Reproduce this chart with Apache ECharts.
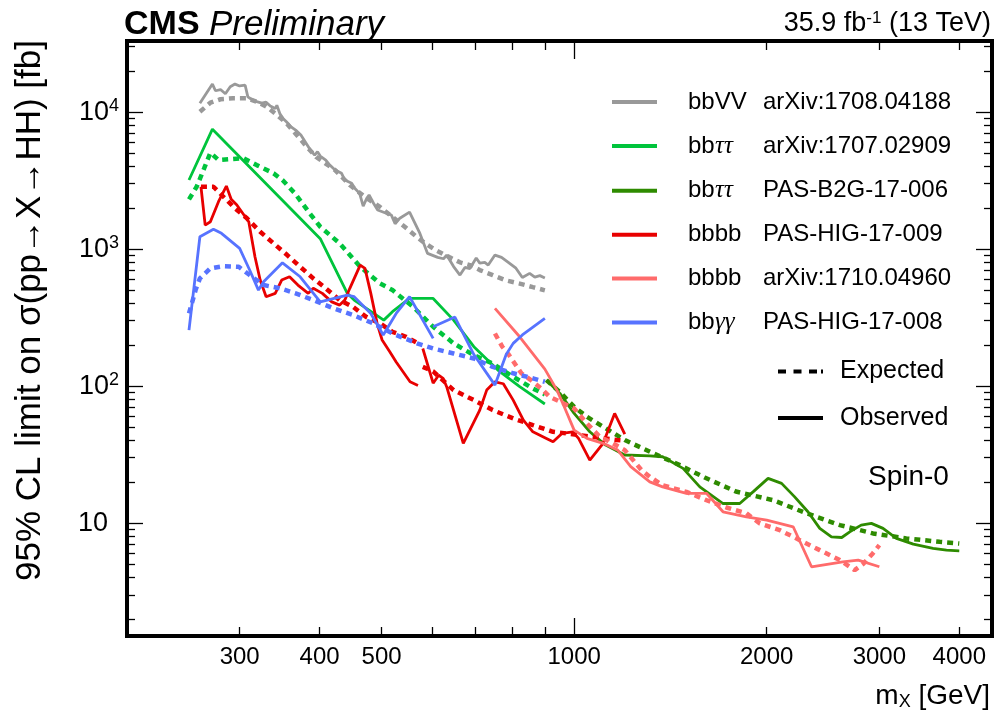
<!DOCTYPE html>
<html><head><meta charset="utf-8">
<script src="https://cdn.jsdelivr.net/npm/echarts@6/dist/echarts.min.js"></script>
<style>html,body{margin:0;padding:0;background:#fff}#c{width:996px;height:717px}</style>
</head><body><div id="c"></div>
<script>
// ---- data (mass in GeV, limit in fb) ----
const grayObs = [[260,11600],[272,16000],[275,14300],[280,14600],[285,13600],[290,15300],[295,16000],[300,15500],[306,15700],[309,12900],[313,12400],[319,11900],[325,11600],[330,11800],[335,11060],[341,10600],[343,11200],[347,9650],[351,8950],[355,8500],[361,7800],[367,7390],[374,6800],[380,6050],[387,5280],[393,4855],[397,5140],[401,4770],[409,4460],[415,4100],[423,3770],[433,3570],[438,3190],[449,3020],[454,2780],[462,2550],[468,2060],[474,2350],[478,2480],[486,2150],[493,1930],[506,1840],[518,1770],[525,1530],[534,1680],[553,1860],[574,1300],[590,930],[612,870],[625,850],[632,904],[648,745],[663,646],[675,735],[687,720],[703,860],[712,790],[725,800],[734,764],[752,904],[770,870],[789,800],[811,725],[830,620],[852,665],[868,625],[884,640],[900,616]];
const grayExp = [[260,10050],[270,11700],[280,12400],[293,12600],[308,12600],[319,11900],[330,11000],[342,9650],[355,8300],[367,6950],[380,5740],[395,4700],[423,3770],[446,2930],[471,2400],[497,2030],[544,1450],[567,1230],[585,1100],[607,983],[639,870],[663,800],[687,764],[712,703],[746,646],[783,590],[822,560],[862,527],[900,500]];
const greenObs = [[250,3190],[272,7500],[401,1190],[442,475],[453,424],[504,303],[520,349],[553,436],[602,436],[648,303],[697,194],[760,131],[822,99],[900,74]];
const greenExp = [[250,2306],[257,2850],[264,3880],[270,5045],[278,4463],[290,4530],[304,4600],[319,4100],[339,3570],[350,3190],[366,2550],[388,1771],[401,1455],[430,1100],[463,743],[497,562],[520,502],[560,379],[602,271],[648,205],[697,168],[746,146],[803,117],[862,96],[900,87]];
const dgreenObs = [[905,110.6],[950,88.4],[1000,63.2],[1058,46.4],[1120,37.1],[1200,31.4],[1313,31.0],[1375,30.5],[1480,25.1],[1572,18.4],[1709,13.9],[1815,13.9],[1904,16.9],[2010,21.2],[2110,19.5],[2210,15.6],[2320,12.1],[2421,9.15],[2525,7.94],[2620,7.85],[2697,8.64],[2810,9.67],[2915,9.95],[3040,9.15],[3190,7.73],[3390,7.03],[3640,6.54],[3820,6.35],[4000,6.28]];
const dgreenExp = [[905,110.6],[950,90.4],[1000,70.6],[1047,59.7],[1110,50.5],[1200,40.4],[1330,32.3],[1463,26.5],[1600,21.5],[1790,17],[2046,14.7],[2307,11.8],[2602,9.67],[2932,8.41],[3306,7.73],[3727,7.3],[4000,7.1]];
const redObsLow = [[261,2850],[265,1497],[270,1583],[278,2215],[286,2884],[291,2306],[297,2095],[310,1583],[317,879],[323,594],[330,449],[341,475],[349,594],[359,628],[370,546],[384,475],[391,517],[404,475],[418,412],[430,390],[438,424],[446,517],[463,764],[471,723],[481,475],[492,287],[501,217],[515,178],[527,150],[554,107.5],[570,101]];
const redObsHigh = [[580,188],[602,105],[614,120],[624,114],[632,99],[671,38.2],[712,66.8],[730,93.5],[752,107.5],[775,104],[803,79],[833,56.5],[862,46.4],[905,41.5],[927,39.2],[958,45.2],[995,46.4],[1016,41.5],[1058,28.8],[1110,38.2],[1157,63.2],[1200,44.6]];
const redExpLow = [[261,2850],[273,2850],[283,2409],[295,1982],[308,1676],[323,1338],[339,1100],[356,904],[373,743],[391,611],[409,517],[430,424],[451,379],[473,320],[497,287],[520,249],[546,229],[570,205]];
const redExpHigh = [[580,138],[602,128],[648,93.5],[697,79],[746,66.8],[803,58.1],[862,51.9],[927,46.4],[1020,43.9],[1067,42.7],[1165,40.4],[1200,40]];
const salmonObs = [[752,369],[822,229],[900,133],[940,93.5],[965,70.6],[1000,47.7],[1047,41.5],[1110,38.2],[1170,34.1],[1226,25.8],[1313,20],[1375,18.4],[1498,16.5],[1610,16.5],[1709,12.1],[1859,11.1],[2000,10.5],[2200,9.4],[2350,4.8],[2630,5.21],[2780,5.37],[3000,4.8]];
const salmonExp = [[752,242],[772,194],[790,170],[827,124],[856,110.6],[888,96.2],[916,83.5],[1000,68.7],[1047,53.4],[1097,42.7],[1150,38.2],[1200,34.1],[1274,24.4],[1313,21.8],[1375,18.9],[1498,16.9],[1610,14.7],[1730,13.0],[1859,11.8],[1951,9.95],[2096,8.89],[2253,7.51],[2421,6.35],[2602,5.37],[2745,4.54],[2830,5.04],[2930,6.01],[3000,6.91]];
const blueObsA = [[250,256],[260,1230],[273,1393],[281,1302],[300,1012],[311,703],[321,502],[327,577],[350,794],[373,628],[401,412],[442,462],[453,449],[481,339],[503,236],[527,339],[553,449],[602,223]];
const blueObsB = [[602,271],[651,319],[697,170],[752,101.7],[783,170],[803,205],[830,236],[900,312]];
const blueExp = [[250,339],[256,502],[260,611],[270,723],[283,751],[299,743],[311,646],[327,546],[347,517],[367,475],[391,424],[421,369],[451,330],[485,287],[520,242],[568,205],[602,188],[648,173],[697,159],[746,138],[803,124],[862,114],[900,107.5]];

const legendNames = ['bbVV|arXiv:1708.04188','bbττ|arXiv:1707.02909','bbττ|PAS-B2G-17-006','bbbb|PAS-HIG-17-009','bbbb|arXiv:1710.04960','bbγγ|PAS-HIG-17-008'];
const xLabelValues = [300,400,500,1000,2000,3000,4000];
const xMajorTicks = [1000];
const xMinorTicks = [300,400,500,600,700,800,900,2000,3000,4000];
const yMajorTicks = [10,100,1000,10000];
const yMinorTicks = [2,3,4,5,6,7,8,9,20,30,40,50,60,70,80,90,200,300,400,500,600,700,800,900,2000,3000,4000,5000,6000,7000,8000,9000,20000,30000];

// ---- styling ----
const F = "'Liberation Sans', Arial, Helvetica, sans-serif";
const FN = "'Liberation Sans Narrow', 'Liberation Sans', Arial, sans-serif";
const C = {gray:'#999999', green:'#00c43c', dgreen:'#2e8b00', red:'#e80000', salmon:'#ff6b6b', blue:'#5773ff'};
const XMIN = 200, XMAX = 4500, YMIN = 1.5, YMAX = 33000;

function xAxisDef(pos, ticks, len, labels) {
  return {
    type:'log', position:pos, min:XMIN, max:XMAX,
    axisLine:{show:false}, splitLine:{show:false}, minorTick:{show:false},
    axisTick:{show:true, inside:true, length:len, customValues:ticks, lineStyle:{color:'#000', width:1.3}},
    axisLabel: labels ? {show:true, customValues:labels, margin:9, color:'#000', fontSize:24, fontFamily:FN,
      formatter: v => String(Math.round(v))} : {show:false}
  };
}
function yAxisDef(pos, ticks, len, labels) {
  return {
    type:'log', position:pos, min:YMIN, max:YMAX,
    axisLine:{show:false}, splitLine:{show:false}, minorTick:{show:false},
    axisTick:{show:true, inside:true, length:len, customValues:ticks, lineStyle:{color:'#000', width:1.3}},
    axisLabel: labels ? {show:true, customValues:labels, margin:8, color:'#000', fontSize:27, fontFamily:F, lineHeight:30,
      formatter: v => { const e = Math.round(Math.log10(v)); return e === 1 ? '{t|10}' : '10{s|' + e + '}'; },
      rich:{
        t:{fontSize:27, fontFamily:F, color:'#000', lineHeight:30, padding:[0,11,0,0]},
        s:{fontSize:18, fontFamily:F, color:'#000', lineHeight:18, verticalAlign:'top', padding:[0,0,8,0]}
      }} : {show:false}
  };
}

function line(name, data, color, dashed, z) {
  return {
    name, type:'line', data, color, symbol:'none', showSymbol:false, animation:false, clip:true, z: z || 3,
    lineStyle:{color, width: dashed ? 4.5 : 2.8, type: dashed ? [6,5] : 'solid', cap:'butt'},
    emphasis:{disabled:true}, silent:true
  };
}

const series = [
  line('exp gray', grayExp, C.gray, true),
  line(legendNames[0], grayObs, C.gray, false),
  line('exp green', greenExp, C.green, true),
  line(legendNames[1], greenObs, C.green, false),
  line('exp dgreen', dgreenExp, C.dgreen, true),
  line(legendNames[2], dgreenObs, C.dgreen, false),
  line('exp red low', redExpLow, C.red, true),
  line('exp red high', redExpHigh, C.red, true),
  line(legendNames[3], redObsLow, C.red, false),
  line(legendNames[3], redObsHigh, C.red, false),
  line('exp salmon', salmonExp, C.salmon, true),
  line(legendNames[4], salmonObs, C.salmon, false),
  line('exp blue', blueExp, C.blue, true),
  line(legendNames[5], blueObsA, C.blue, false),
  line(legendNames[5], blueObsB, C.blue, false),
  {name:'Expected', type:'line', data:[], color:'#000', symbol:'none'},
  {name:'Observed', type:'line', data:[], color:'#000', symbol:'none'}
];

function legendFmt(name) {
  const p = name.split('|');
  const a = p[0], b = p[1];
  if (a === 'bbVV' || a === 'bbbb') return '{a|' + a + '}{b|' + b + '}';
  return '{p|bb}{g|' + a.slice(2) + '}{b|' + b + '}';
}

const option = {
  backgroundColor:'#fff',
  animation:false,
  grid:{left:127, right:4, top:41, height:595, show:true, borderColor:'#000', borderWidth:4, backgroundColor:'rgba(0,0,0,0)', containLabel:false, outerBoundsMode:'none'},
  xAxis:[xAxisDef('bottom', xMajorTicks, 18, xLabelValues), xAxisDef('bottom', xMinorTicks, 9, null), xAxisDef('top', xMajorTicks, 18, null), xAxisDef('top', xMinorTicks, 9, null)],
  yAxis:[yAxisDef('left', yMajorTicks, 16, yMajorTicks), yAxisDef('left', yMinorTicks, 8, null), yAxisDef('right', yMajorTicks, 16, null), yAxisDef('right', yMinorTicks, 8, null)],
  legend:[
    {data:legendNames, orient:'vertical', left:612, top:90, padding:0, itemWidth:45, itemHeight:4, itemGap:19.6, icon:'rect', selectedMode:false,
      formatter:legendFmt,
      textStyle:{fontSize:24, fontFamily:F, color:'#000', lineHeight:24,
        rich:{
          a:{fontSize:24, fontFamily:F, color:'#000', width:75, padding:[0,0,0,26], lineHeight:24},
          p:{fontSize:24, fontFamily:F, color:'#000', width:27, padding:[0,0,0,26], lineHeight:24},
          g:{fontSize:25, fontFamily:"'Liberation Serif', serif", fontStyle:'italic', color:'#000', width:48, lineHeight:24},
          b:{fontSize:24, fontFamily:F, color:'#000', lineHeight:24}
        }}},
    {data:[{name:'Expected', icon:'path://M0,0h8v4h-8zM15.5,0h8v4h-8zM31,0h8v4h-8zM43,0h2v4h-2z'},{name:'Observed', icon:'rect'}],
      orient:'vertical', left:778, top:359, padding:0, itemWidth:45, itemHeight:4, itemGap:21.6, selectedMode:false,
      textStyle:{fontSize:25, fontFamily:F, color:'#000', lineHeight:24, padding:[0,0,0,12]}}
  ],
  title:[
    {text:'{b|CMS} {i|Preliminary}', left:124, top:8, padding:0,
      textStyle:{fontSize:34, lineHeight:34, fontFamily:F, color:'#000', fontWeight:'normal',
        rich:{b:{fontSize:34, fontWeight:'bold', fontFamily:F, color:'#000', lineHeight:34}, i:{fontSize:35, fontStyle:'italic', fontWeight:'normal', fontFamily:F, color:'#000', lineHeight:34}}}},
    {text:'35.9 fb{s|-1} (13 TeV)', right:5, top:10, padding:0,
      textStyle:{fontSize:27, lineHeight:28, fontFamily:F, color:'#000', fontWeight:'normal',
        rich:{s:{fontSize:17, fontFamily:F, color:'#000', lineHeight:17, verticalAlign:'top'}}}},
    {text:'Spin-0', left:868, top:463, padding:0, textStyle:{fontSize:28, lineHeight:28, fontFamily:F, color:'#000', fontWeight:'normal'}}
  ],
  graphic:[
    {type:'text', x:990, y:696, silent:true,
      style:{text:'{n|m}{s|X}{n| [GeV]}', textAlign:'right', textVerticalAlign:'middle', fill:'#000',
        rich:{n:{fontSize:28, fontFamily:FN, fill:'#000', lineHeight:30}, s:{fontSize:18, fontFamily:FN, fill:'#000', lineHeight:18, verticalAlign:'bottom', padding:[8,0,0,0]}}}},
    {type:'text', x:30, y:40, rotation:Math.PI/2, silent:true,
      style:{text:'95% CL limit on σ(pp→X→HH) [fb]', font:"35px 'Liberation Sans', Arial, sans-serif", textAlign:'right', textVerticalAlign:'middle', fill:'#000'}}
  ],
  series
};

const chart = echarts.init(document.getElementById('c'), null, {renderer:'canvas'});
chart.setOption(option);
</script>
</body></html>
